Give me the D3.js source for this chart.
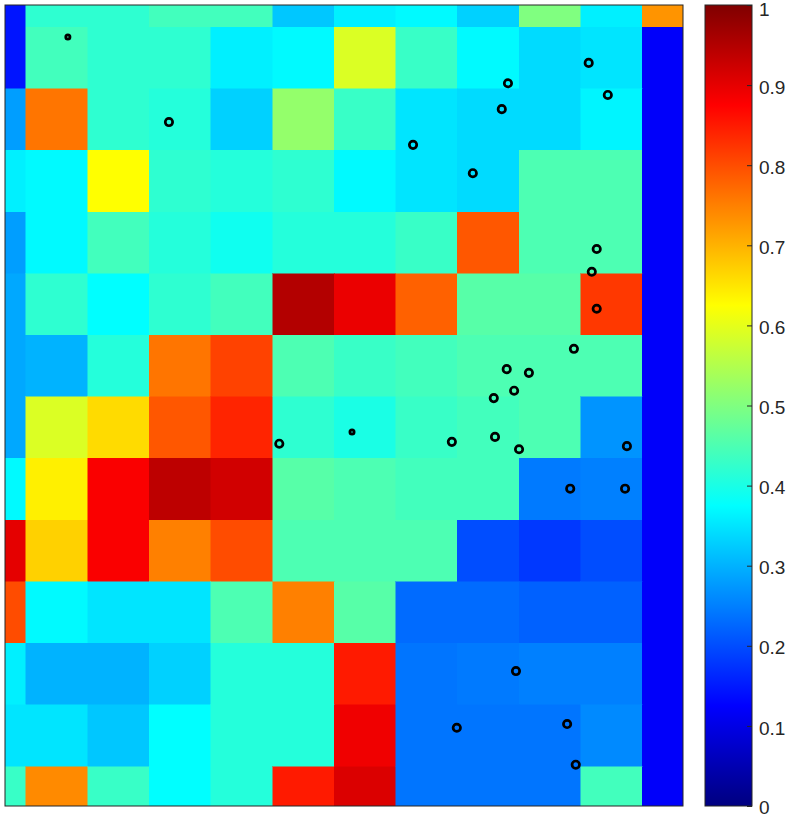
<!DOCTYPE html>
<html>
<head>
<meta charset="utf-8">
<script src="https://cdn.jsdelivr.net/npm/d3@7"></script>
<style>
  body { margin: 0; background: #fff; }
</style>
</head>
<body>
<div id="chart"></div>
<script>
// Cell grid: columns and rows are 1-based cell centres
var cols = [1, 2, 3, 4, 5, 6, 7, 8, 9, 10, 11, 12];
var rows = [1, 2, 3, 4, 5, 6, 7, 8, 9, 10, 11, 12, 13, 14];

// Cell values, one array per row (top to bottom)
var cellValues = [
  [0.145, 0.42, 0.42, 0.44, 0.44, 0.32, 0.36, 0.37, 0.33, 0.50, 0.36, 0.73],
  [0.145, 0.44, 0.42, 0.42, 0.36, 0.37, 0.59, 0.43, 0.37, 0.34, 0.35, 0.12],
  [0.28, 0.76, 0.42, 0.41, 0.33, 0.52, 0.43, 0.35, 0.34, 0.34, 0.365, 0.12],
  [0.36, 0.37, 0.625, 0.42, 0.41, 0.42, 0.37, 0.35, 0.34, 0.45, 0.45, 0.12],
  [0.28, 0.37, 0.44, 0.41, 0.39, 0.41, 0.41, 0.43, 0.79, 0.45, 0.45, 0.12],
  [0.29, 0.42, 0.375, 0.42, 0.44, 0.95, 0.895, 0.78, 0.46, 0.46, 0.82, 0.12],
  [0.29, 0.30, 0.41, 0.76, 0.81, 0.45, 0.43, 0.44, 0.45, 0.45, 0.45, 0.12],
  [0.29, 0.59, 0.66, 0.79, 0.84, 0.42, 0.40, 0.43, 0.44, 0.45, 0.27, 0.12],
  [0.37, 0.64, 0.88, 0.94, 0.92, 0.46, 0.45, 0.44, 0.44, 0.245, 0.25, 0.12],
  [0.90, 0.67, 0.88, 0.75, 0.80, 0.45, 0.45, 0.45, 0.20, 0.18, 0.20, 0.12],
  [0.80, 0.37, 0.35, 0.35, 0.45, 0.75, 0.46, 0.23, 0.23, 0.22, 0.22, 0.12],
  [0.36, 0.30, 0.30, 0.33, 0.41, 0.41, 0.85, 0.24, 0.245, 0.25, 0.25, 0.12],
  [0.35, 0.35, 0.32, 0.375, 0.41, 0.41, 0.89, 0.24, 0.24, 0.24, 0.26, 0.12],
  [0.43, 0.74, 0.43, 0.375, 0.41, 0.85, 0.91, 0.24, 0.24, 0.24, 0.44, 0.12]
];

// Circle markers (data units), small = the two tiny dots
var pointX = [2.18, 3.82, 10.63, 9.32, 10.94, 9.22, 7.78, 8.75, 10.76, 10.68,
              10.76, 10.39, 9.30, 9.66, 9.42, 9.09, 5.61, 6.79, 8.41, 9.11,
              9.50, 11.25, 10.33, 11.22, 9.45, 8.49, 10.28, 10.42];
var pointY = [1.66, 3.04, 2.08, 2.41, 2.60, 2.83, 3.41, 3.87, 5.10, 5.47,
              6.07, 6.72, 7.05, 7.11, 7.40, 7.52, 8.26, 8.07, 8.23, 8.15,
              8.35, 8.30, 8.99, 8.99, 11.95, 12.87, 12.81, 13.47];
var pointSmall = [1, 0, 0, 0, 0, 0, 0, 0, 0, 0,
                  0, 0, 0, 0, 0, 0, 0, 1, 0, 0,
                  0, 0, 0, 0, 0, 0, 0, 0];

// Colorbar ticks
var colorTicks = [0, 0.1, 0.2, 0.3, 0.4, 0.5, 0.6, 0.7, 0.8, 0.9, 1];

var W = 791, H = 817;
var plot = {left: 5, top: 5, right: 683, bottom: 806};
var cbar = {left: 705, right: 752, top: 5, bottom: 806};
var ink = "#262626";

//Jet colormap
function jet(v) {
  var c = function(t) { return Math.max(0, Math.min(1, t)) * 255; };
  return d3.rgb(c(1.5 - Math.abs(4 * v - 3)),
                c(1.5 - Math.abs(4 * v - 2)),
                c(1.5 - Math.abs(4 * v - 1))).toString();
}
var color = d3.scaleSequential(jet).domain([0, 1]);

var svg = d3.select("#chart")
  .append("svg")
  .attr("width", W)
  .attr("height", H)
  .style("font-family", "'Liberation Sans', Arial, Helvetica, sans-serif");

//Scales (axis limits cut the outer cells)
var x = d3.scaleLinear().domain([1.16, 12.16]).range([plot.left, plot.right]);
var y = d3.scaleLinear().domain([1.14, 14.14]).range([plot.top, plot.bottom]);

svg.append("clipPath")
  .attr("id", "clip")
  .append("rect")
  .attr("x", plot.left)
  .attr("y", plot.top)
  .attr("width", plot.right - plot.left)
  .attr("height", plot.bottom - plot.top);

var cells = [];
rows.forEach(function(r, i) {
  cols.forEach(function(c, j) {
    cells.push({row: r, col: c, value: cellValues[i][j]});
  });
});

var g = svg.append("g").attr("clip-path", "url(#clip)");

g.selectAll(".cell")
  .data(cells)
  .enter()
  .append("rect")
  .attr("class", "cell")
  .attr("x", d => x(d.col - 0.5))
  .attr("y", d => y(d.row - 0.5))
  .attr("width", d => x(d.col + 0.5) - x(d.col - 0.5))
  .attr("height", d => y(d.row + 0.5) - y(d.row - 0.5))
  .attr("fill", d => color(d.value))
  .attr("stroke", d => color(d.value))
  .attr("stroke-width", 0.5)
  .attr("shape-rendering", "crispEdges");

//Markers
g.selectAll(".pt")
  .data(pointX.map((px, i) => ({x: px, y: pointY[i], small: pointSmall[i]})))
  .enter()
  .append("circle")
  .attr("class", "pt")
  .attr("cx", d => x(d.x))
  .attr("cy", d => y(d.y))
  .attr("r", d => d.small ? 2.1 : 3.7)
  .attr("fill", "none")
  .attr("stroke", "#000")
  .attr("stroke-width", d => d.small ? 2.8 : 2.7);

//Axes box
svg.append("rect")
  .attr("x", plot.left)
  .attr("y", plot.top)
  .attr("width", plot.right - plot.left)
  .attr("height", plot.bottom - plot.top)
  .attr("fill", "none")
  .attr("stroke", ink)
  .attr("stroke-width", 1);

//Colorbar
var cy = d3.scaleLinear().domain([0, 1]).range([cbar.bottom, cbar.top]);

var grad = svg.append("defs")
  .append("linearGradient")
  .attr("id", "jetgrad")
  .attr("x1", 0).attr("y1", 1)
  .attr("x2", 0).attr("y2", 0);

grad.selectAll("stop")
  .data(d3.range(0, 65).map(k => k / 64))
  .enter()
  .append("stop")
  .attr("offset", d => d)
  .attr("stop-color", d => color(d));

svg.append("rect")
  .attr("x", cbar.left)
  .attr("y", cbar.top)
  .attr("width", cbar.right - cbar.left)
  .attr("height", cbar.bottom - cbar.top)
  .attr("fill", "url(#jetgrad)")
  .attr("stroke", ink)
  .attr("stroke-width", 1);

var tk = svg.append("g")
  .attr("transform", "translate(" + cbar.right + ",0)")
  .call(d3.axisRight(cy).tickValues(colorTicks).tickSize(0).tickFormat(d3.format("")));

tk.select(".domain").remove();
tk.selectAll(".tick line")
  .attr("x1", -5)
  .attr("x2", 0)
  .attr("stroke", ink);
tk.selectAll(".tick text")
  .attr("x", 7)
  .attr("dy", d => d === 0 ? "0.42em" : d === 1 ? "0.53em" : "0.43em")
  .attr("fill", ink)
  .style("font-size", "19px");
</script>
</body>
</html>
